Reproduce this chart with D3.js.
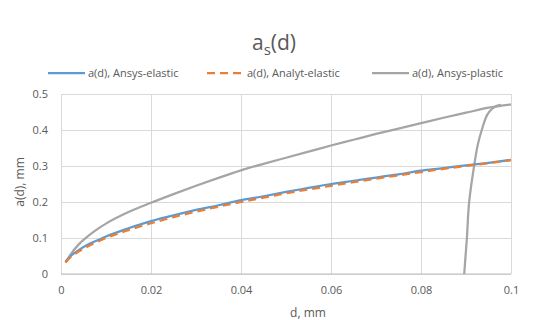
<!DOCTYPE html>
<html>
<head>
<meta charset="utf-8">
<script src="https://cdn.jsdelivr.net/npm/d3@7"></script>
<style>
  body { margin: 0; background: #fff; }
  text { font-family: "Open Sans", "Noto Sans", sans-serif; }
</style>
</head>
<body>
<svg id="chart" width="547" height="320"></svg>
<script>
// d values (mm) shared by the elastic series and the rising plastic branch
const dValues = [0.001, 0.002, 0.004, 0.006, 0.008, 0.01, 0.015, 0.02, 0.025, 0.03, 0.035, 0.04,
  0.045, 0.05, 0.055, 0.06, 0.065, 0.07, 0.075, 0.08, 0.085, 0.09, 0.095, 0.1];

const ansysElastic = [0.034, 0.048, 0.067, 0.082, 0.093, 0.104, 0.127, 0.147, 0.163, 0.178, 0.191, 0.205,
  0.216, 0.228, 0.239, 0.250, 0.259, 0.268, 0.277, 0.287, 0.294, 0.302, 0.309, 0.317];

const analytElastic = [0.032, 0.045, 0.063, 0.077, 0.089, 0.100, 0.122, 0.141, 0.158, 0.173, 0.187, 0.200,
  0.212, 0.224, 0.235, 0.245, 0.255, 0.265, 0.274, 0.283, 0.292, 0.300, 0.308, 0.316];

const ansysPlastic = [0.032, 0.052, 0.083, 0.105, 0.124, 0.140, 0.172, 0.198, 0.222, 0.245, 0.267, 0.288,
  0.306, 0.323, 0.340, 0.357, 0.373, 0.389, 0.404, 0.419, 0.434, 0.448, 0.462, 0.471];

// the plastic curve turns back down near the end
const plasticBackD = [0.0978, 0.0968, 0.0958, 0.0947, 0.0935, 0.0926, 0.0918, 0.0907, 0.0902, 0.0899, 0.0896];
const plasticBackA = [0.470, 0.467, 0.459, 0.442, 0.400, 0.358, 0.300, 0.200, 0.100, 0.050, 0.0];

const xTicks = [0, 0.02, 0.04, 0.06, 0.08, 0.1];
const yTicks = [0, 0.1, 0.2, 0.3, 0.4, 0.5];

const seriesNames = ["a(d), Ansys-elastic", "a(d), Analyt-elastic", "a(d), Ansys-plastic"];
const colors = ["#5B9BD5", "#ED7D31", "#A5A5A5"];

const svg = d3.select("#chart");
const plotLeft = 61, plotRight = 511, plotTop = 94, plotBottom = 274;

const x = d3.scaleLinear().domain([0, 0.1]).range([plotLeft, plotRight]);
const y = d3.scaleLinear().domain([0, 0.5]).range([plotBottom, plotTop]);

// gridlines
svg.append("g")
  .attr("transform", `translate(0,${plotBottom})`)
  .call(d3.axisBottom(x).tickValues(xTicks).tickSize(-(plotBottom - plotTop)).tickFormat(""))
  .call(g => g.select(".domain").remove())
  .call(g => g.selectAll("line").attr("stroke", "#D9D9D9"));

svg.append("g")
  .attr("transform", `translate(${plotLeft},0)`)
  .call(d3.axisLeft(y).tickValues(yTicks).tickSize(-(plotRight - plotLeft)).tickFormat(""))
  .call(g => g.select(".domain").remove())
  .call(g => g.selectAll("line").attr("stroke", "#D9D9D9"));

// bottom axis line
svg.append("line")
  .attr("x1", plotLeft).attr("x2", plotRight)
  .attr("y1", y(0)).attr("y2", y(0))
  .attr("stroke", "#BFBFBF");

// tick labels
svg.append("g")
  .attr("transform", `translate(0,${plotBottom})`)
  .call(d3.axisBottom(x).tickValues(xTicks).tickSize(0).tickPadding(12).tickFormat(d => String(+d.toFixed(2))))
  .call(g => g.select(".domain").remove())
  .call(g => g.selectAll("text").attr("fill", "#595959").style("font-size", "11px").style("font-family", "'Open Sans', sans-serif"));

svg.append("g")
  .attr("transform", `translate(${plotLeft},0)`)
  .call(d3.axisLeft(y).tickValues(yTicks).tickSize(0).tickPadding(13).tickFormat(d => String(+d.toFixed(1))))
  .call(g => g.select(".domain").remove())
  .call(g => g.selectAll("text").attr("fill", "#595959").style("font-size", "11px").style("font-family", "'Open Sans', sans-serif"));

// axis titles
svg.append("text")
  .attr("x", 308).attr("y", 317)
  .attr("text-anchor", "middle")
  .attr("fill", "#595959")
  .style("font-size", "12px")
  .text("d, mm");

svg.append("text")
  .attr("transform", "translate(24,182) rotate(-90)")
  .attr("text-anchor", "middle")
  .attr("fill", "#595959")
  .style("font-size", "12px")
  .text("a(d), mm");

// title
const title = svg.append("text")
  .attr("x", 274).attr("y", 50)
  .attr("text-anchor", "middle")
  .attr("fill", "#595959")
  .style("font-size", "21px");
title.append("tspan").text("a");
title.append("tspan").attr("dy", 5).style("font-size", "15px").text("s");
title.append("tspan").attr("dy", -5).text("(d)");

// lines
const line = d3.line()
  .x(d => x(d[0]))
  .y(d => y(d[1]))
  .curve(d3.curveMonotoneX);

const plot = svg.append("g");

plot.append("path")
  .datum(d3.zip(dValues, ansysPlastic))
  .attr("d", line)
  .attr("fill", "none")
  .attr("stroke", colors[2])
  .attr("stroke-width", 2.25);

plot.append("path")
  .datum(d3.zip(plasticBackD, plasticBackA))
  .attr("d", d3.line().x(d => x(d[0])).y(d => y(d[1])).curve(d3.curveCatmullRom.alpha(0.5)))
  .attr("fill", "none")
  .attr("stroke", colors[2])
  .attr("stroke-width", 2.25);

plot.append("path")
  .datum(d3.zip(dValues, ansysElastic))
  .attr("d", line)
  .attr("fill", "none")
  .attr("stroke", colors[0])
  .attr("stroke-width", 2.25);

plot.append("path")
  .datum(d3.zip(dValues, analytElastic))
  .attr("d", line)
  .attr("fill", "none")
  .attr("stroke", colors[1])
  .attr("stroke-width", 2.25)
  .attr("stroke-dasharray", "8,5");

// legend
const legendX = [48, 207, 372];
const legend = svg.append("g");
seriesNames.forEach((name, i) => {
  legend.append("line")
    .attr("x1", legendX[i]).attr("x2", legendX[i] + 37)
    .attr("y1", 73).attr("y2", 73)
    .attr("stroke", colors[i])
    .attr("stroke-width", 2.25)
    .attr("stroke-dasharray", i === 1 ? "8,5" : null);
  legend.append("text")
    .attr("x", legendX[i] + 40).attr("y", 77)
    .attr("fill", "#595959")
    .style("font-size", "11px")
    .text(name);
});
</script>
</body>
</html>
